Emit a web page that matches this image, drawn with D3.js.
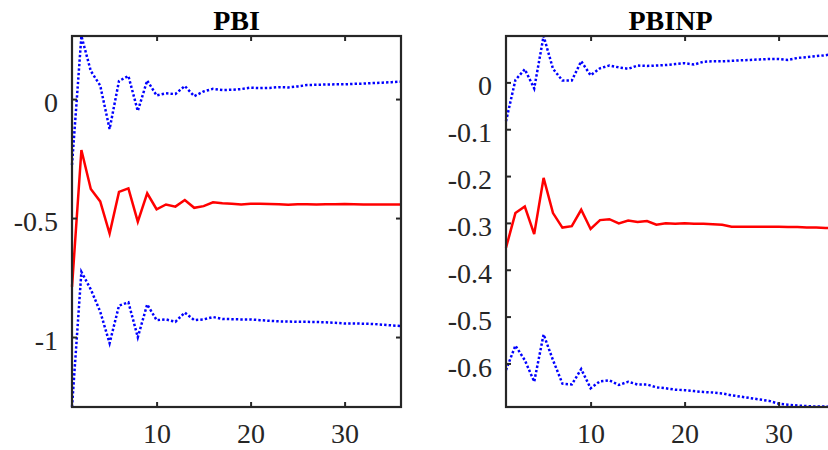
<!DOCTYPE html>
<html>
<head>
<meta charset="utf-8">
<script src="https://cdn.jsdelivr.net/npm/d3@7"></script>
<style>
  body { margin: 0; background: #fff; }
  svg { display: block; }
</style>
</head>
<body>
<script>
// horizons (x axis)
const horizons = [1,2,3,4,5,6,7,8,9,10,11,12,13,14,15,16,17,18,19,20,21,22,23,24,25,26,27,28,29,30,31,32,33,34,35,36];

// PBI: median response and bands
const pbiMedian = [-0.789,-0.214,-0.378,-0.430,-0.565,-0.390,-0.375,-0.515,-0.396,-0.463,-0.443,-0.452,-0.424,-0.457,-0.450,-0.434,-0.438,-0.440,-0.443,-0.440,-0.440,-0.441,-0.442,-0.444,-0.442,-0.442,-0.443,-0.442,-0.442,-0.441,-0.442,-0.443,-0.443,-0.443,-0.443,-0.443];
const pbiUpper = [-0.277,0.265,0.118,0.057,-0.126,0.076,0.097,-0.050,0.078,0.015,0.024,0.021,0.055,0.012,0.032,0.043,0.038,0.039,0.042,0.048,0.046,0.047,0.050,0.049,0.053,0.059,0.060,0.061,0.062,0.062,0.064,0.065,0.067,0.069,0.071,0.073];
const pbiLower = [-1.294,-0.726,-0.800,-0.893,-1.026,-0.868,-0.854,-1.001,-0.863,-0.929,-0.926,-0.936,-0.897,-0.929,-0.926,-0.916,-0.924,-0.925,-0.926,-0.926,-0.929,-0.932,-0.934,-0.935,-0.936,-0.936,-0.937,-0.938,-0.940,-0.943,-0.943,-0.944,-0.945,-0.948,-0.951,-0.954];

// PBINP: median response and bands
const pbinpMedian = [-0.353,-0.279,-0.265,-0.324,-0.204,-0.279,-0.310,-0.307,-0.272,-0.313,-0.294,-0.292,-0.301,-0.295,-0.298,-0.296,-0.304,-0.301,-0.302,-0.301,-0.302,-0.302,-0.303,-0.304,-0.308,-0.308,-0.308,-0.308,-0.308,-0.308,-0.309,-0.309,-0.310,-0.310,-0.311,-0.311];
const pbinpUpper = [-0.083,0.005,0.028,-0.013,0.099,0.029,0.004,0.004,0.045,0.015,0.030,0.036,0.032,0.029,0.036,0.035,0.036,0.037,0.039,0.041,0.038,0.044,0.045,0.045,0.046,0.047,0.048,0.049,0.050,0.050,0.048,0.052,0.054,0.056,0.058,0.061];
const pbinpLower = [-0.614,-0.562,-0.593,-0.639,-0.538,-0.593,-0.643,-0.645,-0.612,-0.653,-0.638,-0.636,-0.646,-0.639,-0.645,-0.645,-0.651,-0.653,-0.656,-0.657,-0.659,-0.661,-0.662,-0.664,-0.668,-0.671,-0.674,-0.677,-0.680,-0.686,-0.688,-0.690,-0.691,-0.692,-0.692,-0.693];

// ticks
const xTicks = [10, 20, 30];
const pbiYTicks = [-1, -0.5, 0];
const pbinpYTicks = [-0.6, -0.5, -0.4, -0.3, -0.2, -0.1, 0];

const width = 828;
const height = 450;
const font = '"Liberation Serif", "Times New Roman", serif';
const axisColor = '#262626';

const svg = d3.select('body').append('svg')
    .attr('width', width)
    .attr('height', height);

svg.append('rect')
    .attr('width', width)
    .attr('height', height)
    .attr('fill', '#fff');

const panels = [
  { title: 'PBI', left: 72, median: pbiMedian, upper: pbiUpper, lower: pbiLower, yTicks: pbiYTicks },
  { title: 'PBINP', left: 506, median: pbinpMedian, upper: pbinpUpper, lower: pbinpLower, yTicks: pbinpYTicks }
];

const plotW = 329;
const plotTop = 36;
const plotBottom = 407;

panels.forEach((p, i) => {
  const g = svg.append('g').attr('transform', `translate(${p.left},0)`);

  const x = d3.scaleLinear()
      .domain(d3.extent(horizons))
      .range([0, plotW]);

  const all = p.median.concat(p.upper, p.lower);
  const y = d3.scaleLinear()
      .domain(d3.extent(all))
      .range([plotBottom, plotTop]);

  const clipId = 'clip' + i;
  g.append('clipPath').attr('id', clipId)
    .append('rect')
      .attr('x', -2).attr('y', plotTop - 2)
      .attr('width', plotW + 4).attr('height', plotBottom - plotTop + 4);

  const line = d3.line()
      .x((d, j) => x(horizons[j]))
      .y(d => y(d));

  const lines = g.append('g').attr('clip-path', `url(#${clipId})`);

  // bands (dotted blue)
  [p.upper, p.lower].forEach(s => {
    lines.append('path')
        .datum(s)
        .attr('d', line)
        .attr('fill', 'none')
        .attr('stroke', '#0000ff')
        .attr('stroke-width', 2.5)
        .attr('stroke-dasharray', '2.4,2.1');
  });

  // median (solid red)
  lines.append('path')
      .datum(p.median)
      .attr('d', line)
      .attr('fill', 'none')
      .attr('stroke', '#ff0000')
      .attr('stroke-width', 2.5);

  // axes, ticks pointing inward
  const xAxis = d3.axisBottom(x).tickValues(xTicks).tickSizeInner(-5).tickSizeOuter(0).tickPadding(16);
  const xAxisTop = d3.axisTop(x).tickValues(xTicks).tickSizeInner(-5).tickSizeOuter(0).tickFormat('');
  const yAxis = d3.axisLeft(y).tickValues(p.yTicks).tickSizeInner(-5).tickSizeOuter(0).tickPadding(14)
      .tickFormat(d3.format(''));
  const yAxisRight = d3.axisRight(y).tickValues(p.yTicks).tickSizeInner(-5).tickSizeOuter(0).tickFormat('');

  const gx = g.append('g').attr('transform', `translate(0,${plotBottom})`).call(xAxis);
  g.append('g').attr('transform', `translate(0,${plotTop})`).call(xAxisTop);
  const gy = g.append('g').call(yAxis);
  g.append('g').attr('transform', `translate(${plotW},0)`).call(yAxisRight);

  g.selectAll('.domain').remove();
  g.selectAll('.tick line').attr('stroke', axisColor).attr('stroke-width', 2);

  gx.selectAll('text')
      .attr('font-family', font)
      .attr('font-size', 28)
      .attr('fill', axisColor)
      .attr('dy', '0.71em');
  gy.selectAll('text')
      .attr('font-family', font)
      .attr('font-size', 28)
      .attr('fill', axisColor)
      .attr('dy', '0.45em')
      .text(d => String(d).replace('\u2212', '-'));

  // box
  g.append('rect')
      .attr('x', 0).attr('y', plotTop)
      .attr('width', plotW).attr('height', plotBottom - plotTop)
      .attr('fill', 'none')
      .attr('stroke', axisColor)
      .attr('stroke-width', 2.2);

  // title
  g.append('text')
      .attr('x', plotW / 2)
      .attr('y', 30)
      .attr('text-anchor', 'middle')
      .attr('font-family', font)
      .attr('font-weight', 'bold')
      .attr('font-size', 28)
      .attr('fill', '#000')
      .text(p.title);
});
</script>
</body>
</html>
